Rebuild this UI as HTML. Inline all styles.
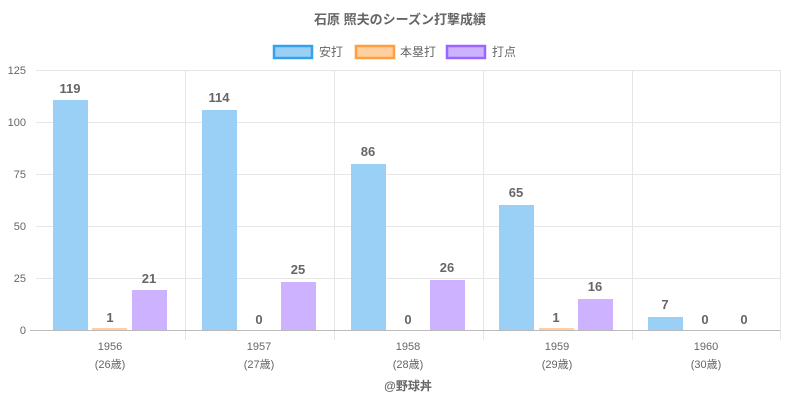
<!DOCTYPE html>
<html><head><meta charset="utf-8"><style>
body{margin:0;background:#fff;}
svg text{font-family:"Liberation Sans","Noto Sans CJK JP",sans-serif;fill:#666;}
</style></head><body>
<svg width="800" height="400" xmlns="http://www.w3.org/2000/svg">
<text x="400" y="24" text-anchor="middle" font-size="13" font-weight="bold">石原 照夫のシーズン打撃成績</text>
<rect x="274" y="46" width="38" height="12" fill="#9ad0f5" stroke="#36a2eb" stroke-width="2.5"/>
<text x="319" y="56" font-size="12">安打</text>
<rect x="356" y="46" width="38" height="12" fill="#ffcf9f" stroke="#ff9f40" stroke-width="2.5"/>
<text x="400" y="56" font-size="12">本塁打</text>
<rect x="447" y="46" width="38" height="12" fill="#ccb2ff" stroke="#9966ff" stroke-width="2.5"/>
<text x="492" y="56" font-size="12">打点</text>
<g stroke="#e6e6e6" stroke-width="1">
<line x1="36" y1="70.5" x2="780" y2="70.5"/><line x1="36" y1="122.5" x2="780" y2="122.5"/><line x1="36" y1="174.5" x2="780" y2="174.5"/><line x1="36" y1="226.5" x2="780" y2="226.5"/><line x1="36" y1="278.5" x2="780" y2="278.5"/>
<line x1="185.5" y1="70" x2="185.5" y2="340"/><line x1="334.5" y1="70" x2="334.5" y2="340"/><line x1="483.5" y1="70" x2="483.5" y2="340"/><line x1="632.5" y1="70" x2="632.5" y2="340"/><line x1="780.5" y1="70" x2="780.5" y2="340"/>
</g>
<line x1="30" y1="330.5" x2="780" y2="330.5" stroke="#bbb"/>
<g font-size="11" text-anchor="end">
<text x="26" y="74">125</text><text x="26" y="126">100</text><text x="26" y="178">75</text><text x="26" y="230">50</text><text x="26" y="282">25</text><text x="26" y="334">0</text>
</g>
<g fill="#9ad0f5">
<rect x="53" y="100" width="35" height="230"/><rect x="202" y="110" width="35" height="220"/><rect x="351" y="164" width="35" height="166"/><rect x="499" y="205" width="35" height="125"/><rect x="648" y="317" width="35" height="13"/>
</g>
<g fill="#ffcf9f"><rect x="92" y="328" width="35" height="2"/><rect x="539" y="328" width="35" height="2"/></g>
<g fill="#ccb2ff">
<rect x="132" y="290" width="35" height="40"/><rect x="281" y="282" width="35" height="48"/><rect x="430" y="280" width="35" height="50"/><rect x="578" y="299" width="35" height="31"/>
</g>
<g font-size="13" font-weight="bold" text-anchor="middle">
<text x="70" y="93">119</text><text x="110" y="322">1</text><text x="149" y="283">21</text>
<text x="219" y="102">114</text><text x="259" y="324">0</text><text x="298" y="274">25</text>
<text x="368" y="156">86</text><text x="408" y="324">0</text><text x="447" y="272">26</text>
<text x="516" y="197">65</text><text x="556" y="322">1</text><text x="595" y="291">16</text>
<text x="665" y="309">7</text><text x="705" y="324">0</text><text x="744" y="324">0</text>
</g>
<g font-size="11" text-anchor="middle">
<text x="110" y="350">1956</text><text x="110" y="368">(26歳)</text>
<text x="259" y="350">1957</text><text x="259" y="368">(27歳)</text>
<text x="408" y="350">1958</text><text x="408" y="368">(28歳)</text>
<text x="557" y="350">1959</text><text x="557" y="368">(29歳)</text>
<text x="706" y="350">1960</text><text x="706" y="368">(30歳)</text>
</g>
<text x="408" y="390" text-anchor="middle" font-size="12" font-weight="bold">@野球丼</text>
</svg>
</body></html>
